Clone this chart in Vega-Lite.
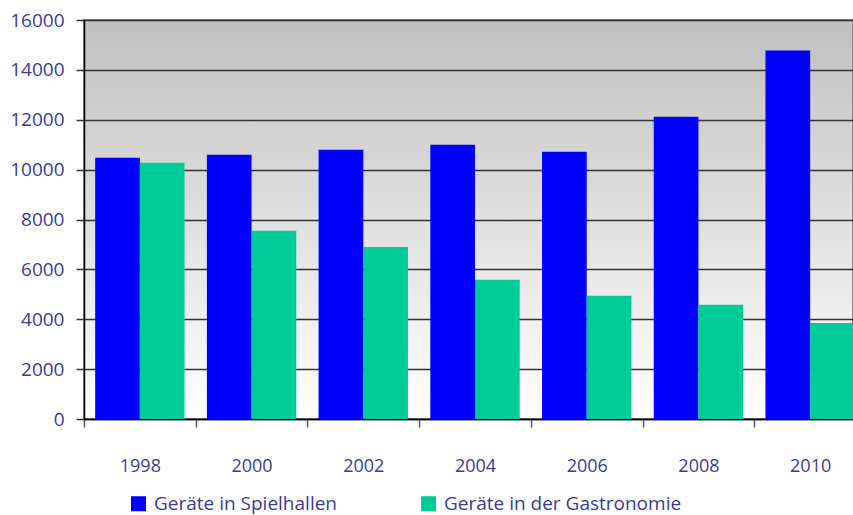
{
  "$schema": "https://vega.github.io/schema/vega-lite/v6.json",
  "autosize": "none",
  "padding": {"left": 84, "top": 20, "right": 0, "bottom": 96},
  "width": 769,
  "height": 399,
  "background": "white",
  "config": {
    "font": "Open Sans",
    "view": {
      "stroke": "#888888",
      "strokeWidth": 2,
      "fill": {
        "gradient": "linear",
        "x1": 0, "y1": 0, "x2": 0, "y2": 1,
        "stops": [
          {"offset": 0, "color": "#c0c0c0"},
          {"offset": 1, "color": "#ffffff"}
        ]
      }
    },
    "axis": {
      "labelFont": "Open Sans",
      "labelFontSize": 18,
      "labelColor": "#3b3b9a",
      "domainColor": "#000000",
      "tickColor": "#555555",
      "tickSize": 8,
      "title": null
    }
  },
  "data": {
    "values": [
      {"year": "1998", "series": "Geräte in Spielhallen", "value": 10480},
      {"year": "1998", "series": "Geräte in der Gastronomie", "value": 10280},
      {"year": "2000", "series": "Geräte in Spielhallen", "value": 10600},
      {"year": "2000", "series": "Geräte in der Gastronomie", "value": 7550},
      {"year": "2002", "series": "Geräte in Spielhallen", "value": 10800},
      {"year": "2002", "series": "Geräte in der Gastronomie", "value": 6900},
      {"year": "2004", "series": "Geräte in Spielhallen", "value": 11000},
      {"year": "2004", "series": "Geräte in der Gastronomie", "value": 5580},
      {"year": "2006", "series": "Geräte in Spielhallen", "value": 10720},
      {"year": "2006", "series": "Geräte in der Gastronomie", "value": 4940},
      {"year": "2008", "series": "Geräte in Spielhallen", "value": 12120},
      {"year": "2008", "series": "Geräte in der Gastronomie", "value": 4580},
      {"year": "2010", "series": "Geräte in Spielhallen", "value": 14780},
      {"year": "2010", "series": "Geräte in der Gastronomie", "value": 3850}
    ]
  },
  "mark": {"type": "bar"},
  "encoding": {
    "x": {
      "field": "year",
      "type": "nominal",
      "scale": {"paddingInner": 0, "paddingOuter": 0, "range": [0, 782]},
      "axis": {
        "labelAngle": 0,
        "tickBand": "extent",
        "labelPadding": 30,
        "domainWidth": 1.5,
        "tickWidth": 1.5
      }
    },
    "xOffset": {
      "field": "series",
      "type": "nominal",
      "sort": ["Geräte in Spielhallen", "Geräte in der Gastronomie"],
      "scale": {"paddingInner": 0, "paddingOuter": 0.25}
    },
    "y": {
      "field": "value",
      "type": "quantitative",
      "scale": {"domain": [0, 16000], "nice": false},
      "axis": {
        "values": [0, 2000, 4000, 6000, 8000, 10000, 12000, 14000, 16000],
        "format": "d",
        "labelFontSize": 19,
        "grid": true,
        "gridColor": "#333333",
        "gridWidth": 1.5,
        "labelPadding": 12,
        "domainWidth": 1.5,
        "tickWidth": 1.5,
        "tickColor": "#333333"
      }
    },
    "color": {
      "field": "series",
      "type": "nominal",
      "sort": ["Geräte in Spielhallen", "Geräte in der Gastronomie"],
      "scale": {
        "domain": ["Geräte in Spielhallen", "Geräte in der Gastronomie"],
        "range": ["#0000ff", "#00cc99"]
      },
      "legend": {
        "orient": "none",
        "legendX": 45,
        "legendY": 474,
        "direction": "horizontal",
        "title": null,
        "symbolType": "square",
        "symbolSize": 225,
        "symbolStrokeWidth": 0,
        "symbolOpacity": 1,
        "labelFont": "Open Sans",
        "labelFontSize": 19,
        "labelColor": "#3b3b9a",
        "labelLimit": 400,
        "labelOffset": 6,
        "columnPadding": 82,
        "padding": 0
      }
    }
  }
}
